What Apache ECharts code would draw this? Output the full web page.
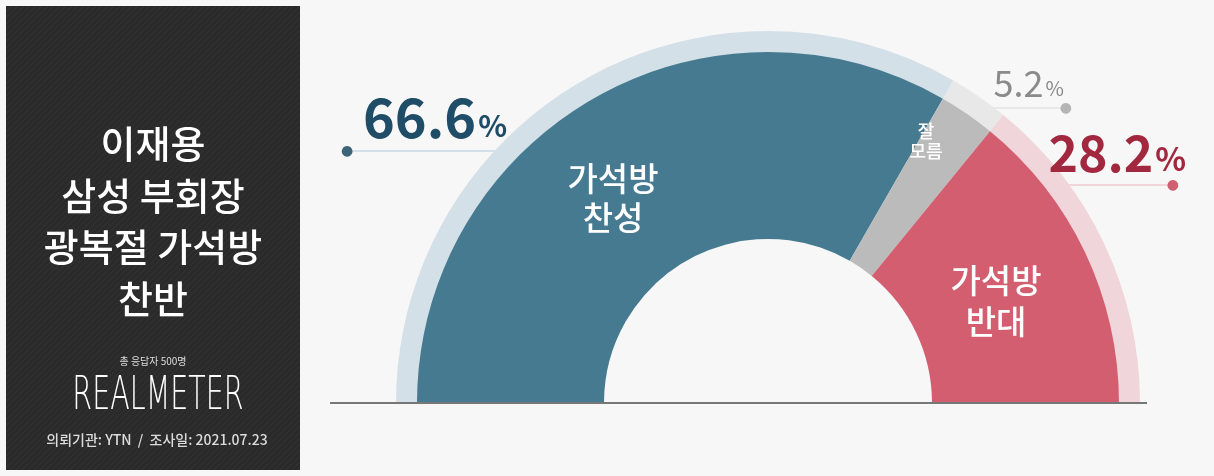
<!DOCTYPE html>
<html><head><meta charset="utf-8">
<script src="https://cdn.jsdelivr.net/npm/echarts@6/dist/echarts.min.js"></script>
<style>html,body{margin:0;padding:0;background:#f7f7f7}#c{width:1214px;height:476px}</style>
</head><body><div id="c"></div>
<script>
// ---- data ----
const categories = ['가석방 찬성', '잘 모름', '가석방 반대'];
const values = [66.6, 5.2, 28.2];
const sliceLabels = ['가석방\n찬성', '잘\n모름', '가석방\n반대'];
const titleLines = ['이재용', '삼성 부회장', '광복절 가석방', '찬반'];
const respondents = '총 응답자 500명';
const brand = 'REALMETER';
const footer = '의뢰기관: YTN  /  조사일: 2021.07.23';

// ---- styles / layout ----
const mainColors = ['#457a91', '#bbbbbb', '#d35e6f'];
const ringColors = ['#d4e0e8', '#e8e8e8', '#f0d5da'];
const valueColors = ['#1f4c67', '#8a8a8a', '#a2283f'];
const dotColors = ['#3c6577', '#b5b5b5', '#cf5f71'];
const CX = 768, CY = 403, R_IN = 164, R_OUT = 351, R_RING = 372;
const innerLabelPos = [[613, 198], [926, 141], [996, 301]];
const innerLabelFont = [[33, 39], [18, 20], [33, 41]];
const valueLayout = [
  {x: 341, y: 158, align: 'left', lineFrom: 524, dotX: 347, dotY: 151},
  {x: 1072, y: 115, align: 'right', lineFrom: 943, dotX: 1066, dotY: 108},
  {x: 1186, y: 192, align: 'right', lineFrom: 1036, dotX: 1173, dotY: 185}
];
const valueFont = [[54, 30], [36, 20], [50, 32]];
const valueWeight = ['bold', 'normal', 'bold'];

const chart = echarts.init(document.getElementById('c'), null, {renderer: 'canvas'});

// stripe pattern for left panel
const pc = document.createElement('canvas');
pc.width = 6; pc.height = 6;
const g = pc.getContext('2d');
g.fillStyle = '#2a2a2a'; g.fillRect(0, 0, 6, 6);
g.strokeStyle = '#323232'; g.lineWidth = 1.2;
g.beginPath(); g.moveTo(-1, 7); g.lineTo(7, -1); g.stroke();

const FONT = '"Noto Sans CJK KR", "Noto Sans", sans-serif';

const panelGraphics = [
  {type: 'rect', shape: {x: 6, y: 6, width: 294, height: 464}, style: {fill: {image: pc, repeat: 'repeat'}}, silent: true, z: 1}
];
titleLines.forEach((t, i) => {
  panelGraphics.push({type: 'text', z: 2, silent: true, style: {
    text: t, x: 153, y: 144 + i * 51.5, fill: '#ffffff',
    font: '500 38px ' + FONT, align: 'center', verticalAlign: 'middle', textAlign: 'center', textVerticalAlign: 'middle'}});
});
panelGraphics.push({type: 'text', z: 2, silent: true, style: {
  text: respondents, x: 153, y: 361, fill: '#dddddd', font: '10px ' + FONT,
  align: 'center', verticalAlign: 'middle', textAlign: 'center', textVerticalAlign: 'middle'}});
panelGraphics.push({type: 'text', z: 2, silent: true, x: 158, y: 397, scaleX: 0.68, scaleY: 1.1, style: {
  text: brand, x: 0, y: 0, fill: '#ffffff', font: '200 42px "Liberation Sans Narrow", "DejaVu Sans", sans-serif',
  align: 'center', verticalAlign: 'middle', textAlign: 'center', textVerticalAlign: 'middle'}});
panelGraphics.push({type: 'text', z: 2, silent: true, style: {
  text: footer, x: 157, y: 440, fill: '#dcdcdc', font: '500 14px ' + FONT,
  align: 'center', verticalAlign: 'middle', textAlign: 'center', textVerticalAlign: 'middle'}});
// baseline
panelGraphics.push({type: 'line', z: 5, silent: true, shape: {x1: 330, y1: CY, x2: 1147, y2: CY}, style: {stroke: '#777777', lineWidth: 2}});

const ringData = categories.map((c, i) => ({
  name: c, value: values[i],
  itemStyle: {color: ringColors[i]},
  label: {
    rich: {
      v: {fontSize: valueFont[i][0], fontWeight: valueWeight[i], color: valueColors[i], fontFamily: FONT,
          lineHeight: valueFont[i][0] + 4, verticalAlign: 'bottom', padding: i === 0 ? [0, 0, 0, 22] : 0},
      p: {fontSize: valueFont[i][1], fontWeight: valueWeight[i], color: valueColors[i], fontFamily: FONT,
          lineHeight: valueFont[i][0] + 4, verticalAlign: 'bottom', padding: [0, i === 1 ? 8 : 0, 3, 2]},
      d: {fontSize: 14, color: dotColors[i],
          fontFamily: '"DejaVu Sans", sans-serif', lineHeight: 14, padding: i === 2 ? [0, 7, 0, 0] : 0}
    }
  }
}));

const mainData = categories.map((c, i) => ({
  name: c, value: values[i],
  itemStyle: {color: mainColors[i]},
  label: {fontSize: innerLabelFont[i][0], lineHeight: innerLabelFont[i][1]}
}));

chart.setOption({
  backgroundColor: '#f7f7f7',
  animation: false,
  graphic: panelGraphics,
  series: [
    {
      type: 'pie', name: 'ring', silent: true, z: 2,
      center: [CX, CY], radius: [R_OUT - 2, R_RING],
      startAngle: 180, endAngle: 360, clockwise: true,
      avoidLabelOverlap: false,
      data: ringData,
      label: {
        show: true, position: 'outside',
        formatter: (p) => '{v|' + values[p.dataIndex].toFixed(1) + '}{p|%}\n{d|●}'
      },
      labelLine: {show: true, length: 5, length2: 5, smooth: false, lineStyle: {width: 2}},
      labelLayout: (params) => {
        const L = valueLayout[params.dataIndex];
        return {
          x: L.x, y: L.y, align: L.align, verticalAlign: 'bottom',
          labelLinePoints: [[L.lineFrom, L.dotY], [L.dotX, L.dotY]]
        };
      },
      emphasis: {disabled: true}
    },
    {
      type: 'pie', name: 'main', silent: true, z: 3,
      center: [CX, CY], radius: [R_IN, R_OUT],
      startAngle: 180, endAngle: 360, clockwise: true,
      avoidLabelOverlap: false,
      data: mainData,
      label: {
        show: true, position: 'inside', color: '#ffffff', fontFamily: FONT, fontWeight: 500,
        formatter: (p) => sliceLabels[p.dataIndex]
      },
      labelLine: {show: false},
      labelLayout: (params) => {
        const pos = innerLabelPos[params.dataIndex];
        return {x: pos[0], y: pos[1], align: 'center', verticalAlign: 'middle'};
      },
      emphasis: {disabled: true}
    }
  ]
});
</script></body></html>
